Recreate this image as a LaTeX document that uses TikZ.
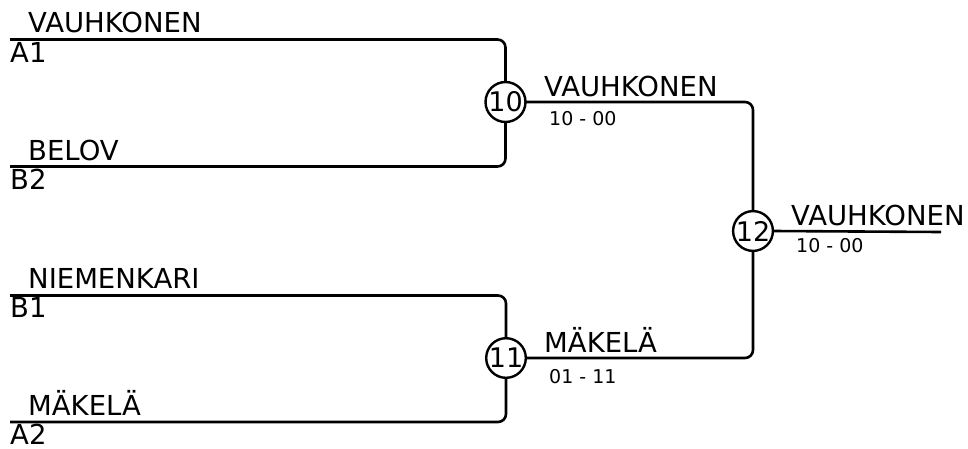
\documentclass[tikz,border=0pt]{standalone}
\usepackage{fontspec}
\setmainfont{DejaVu Sans}
\begin{document}
\begin{tikzpicture}[x=1pt,y=-1pt,
  br/.style={line width=2.6pt,rounded corners=8pt},
  nm/.style={anchor=base west,inner sep=0pt,font=\fontsize{27.5}{27.5}\selectfont},
  sc/.style={anchor=base west,inner sep=0pt,font=\fontsize{19}{19}\selectfont},
  mt/.style={circle,draw,line width=2.4pt,fill=white,minimum size=35.5pt,inner sep=0pt,font=\fontsize{27}{27}\selectfont}]
\useasboundingbox (0,0) rectangle (968,448);
% free ends
\coordinate (a1) at (10,39.5);
\coordinate (b2) at (10,166.5);
\coordinate (b1) at (10,295.5);
\coordinate (a2) at (10,422);
\coordinate (fin) at (941,232);
% brackets
\draw[br] (a1) -- (505.5,39.5) -- (505.5,166.5) -- (b2);
\draw[br] (b1) -- (506,295.5) -- (506,422) -- (a2);
\draw[br] (520,102) -- (753,102) -- (753,358) -- (520,358);
% match nodes
\node[mt] (m10) at (505.5,102) {10};
\node[mt] (m11) at (506,358) {11};
\node[mt] (m12) at (753,231) {12};
\draw[line width=2.6pt] (m12.east) -- (fin);
% names
\node[nm] (n1) at (28,32.5) {VAUHKONEN};
\node[nm] (s1) at (10,62) {A1};
\node[nm] (n2) at (28,160.5) {BELOV};
\node[nm] (s2) at (10,189) {B2};
\node[nm] (n3) at (28,288.5) {NIEMENKARI};
\node[nm] (s3) at (10,317) {B1};
\node[nm] (n4) at (28,415.5) {MÄKELÄ};
\node[nm] (s4) at (10,444) {A2};
\node[nm] (w1) at (544,96.5) {VAUHKONEN};
\node[sc] (r1) at (549,125) {10 - 00};
\node[nm] (w2) at (544,352.5) {MÄKELÄ};
\node[sc] (r2) at (549,383) {01 - 11};
\node[nm] (w3) at (791,225.5) {VAUHKONEN};
\node[sc] (r3) at (796,252) {10 - 00};
\end{tikzpicture}
\end{document}
